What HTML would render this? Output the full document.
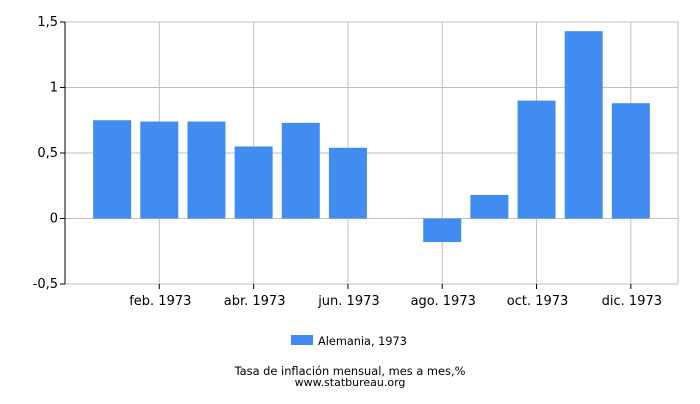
<!DOCTYPE html>
<html><head><meta charset="utf-8"><style>
body{margin:0;background:#fff;font-family:"DejaVu Sans","Liberation Sans",sans-serif;}
</style></head><body>
<svg width="700" height="400" xmlns="http://www.w3.org/2000/svg" font-family="DejaVu Sans, Liberation Sans, sans-serif">
<g id="grid"></g><g id="bars"></g><g id="axes"></g>
<rect x="291" y="335" width="22" height="10" fill="#418cf0"/>
<text x="318" y="345" font-size="11.3" fill="#000">Alemania, 1973</text>
<text x="350" y="375" font-size="11.4" text-anchor="middle">Tasa de inflación mensual, mes a mes,%</text>
<text x="350" y="386" font-size="11" text-anchor="middle">www.statbureau.org</text>
</svg>
<script>
const months=["ene. 1973","feb. 1973","mar. 1973","abr. 1973","may. 1973","jun. 1973","jul. 1973","ago. 1973","sep. 1973","oct. 1973","nov. 1973","dic. 1973"];
const values=[0.75,0.74,0.74,0.55,0.73,0.54,0,-0.18,0.18,0.90,1.43,0.88];
const yTicks=[-0.5,0,0.5,1,1.5];
const yTickLabels=["-0,5","0","0,5","1","1,5"];
const ns="http://www.w3.org/2000/svg";
const L=65,R=678,T=22,B=284,yMin=-0.5,yMax=1.5;
const y=v=>B-(v-yMin)/(yMax-yMin)*(B-T);
const step=(R-L)/13;
const x=i=>L+(i+1)*step;
function mk(t,a,p){const e=document.createElementNS(ns,t);for(const k in a)e.setAttribute(k,a[k]);p.appendChild(e);return e;}
const g=document.getElementById('grid'),b=document.getElementById('bars'),ax=document.getElementById('axes');
yTicks.forEach((v,i)=>{
 const l=mk('line',{x1:L,x2:R,y1:y(v),y2:y(v),stroke:'#c0c0c0'},g);
 
 
 mk('line',{x1:L-5,x2:L,y1:y(v),y2:y(v),stroke:'#000'},ax);
 const t=mk('text',{x:L-7,y:y(v)+4,'font-size':13,'text-anchor':'end'},ax);t.textContent=yTickLabels[i];
 
 
});
months.forEach((m,i)=>{
 if(i%2===1){
  const l=mk('line',{x1:x(i),x2:x(i),y1:T,y2:B,stroke:'#c0c0c0'},g);
  
  
  mk('line',{x1:x(i),x2:x(i),y1:B,y2:B+5,stroke:'#000'},ax);
  const t=mk('text',{x:x(i)+1,y:B+21,'font-size':13,'text-anchor':'middle'},ax);t.textContent=m;
  
  
 }
 const v=values[i];
 const r=mk('rect',{x:x(i)-19,width:38,y:Math.min(y(v),y(0)),height:Math.abs(y(v)-y(0)),fill:'#418cf0'},b);
 
 
});
mk('line',{x1:L,x2:L,y1:T,y2:B,stroke:'#000'},ax);
mk('line',{x1:L,x2:R,y1:B,y2:B,stroke:'#c0c0c0'},g);
mk('rect',{x:L,y:T,width:R-L,height:B-T,fill:'none',stroke:'#c0c0c0'},g);
</script>
</body></html>
